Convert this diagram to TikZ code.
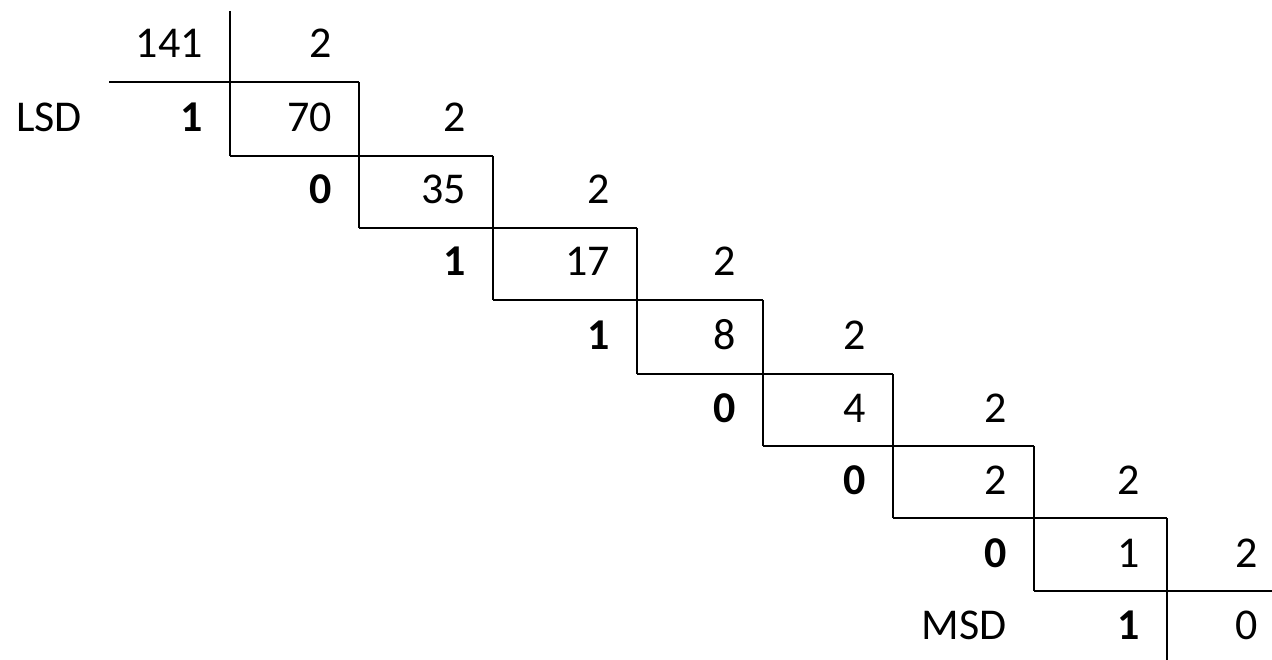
\documentclass[tikz,border=0pt]{standalone}
\usepackage{fontspec}
\setmainfont{Carlito}
\begin{document}
\begin{tikzpicture}[x=1pt,y=-1pt,
  lad/.style={line width=1.6pt,black},
  num/.style={anchor=base east,inner sep=0pt,font=\fontsize{44}{50}\selectfont},
  rem/.style={num,font=\fontsize{44}{50}\selectfont\bfseries},
  lbl/.style={anchor=base west,inner sep=0pt,font=\fontsize{44}{50}\selectfont}]
\useasboundingbox (0,0) rectangle (1272,660);
% column boundaries and row boundaries
\def\Xa{109}\def\Xb{230}\def\Xc{359}\def\Xd{493}\def\Xe{637}\def\Xf{763}\def\Xg{893}\def\Xh{1034}\def\Xi{1167}\def\Xj{1285}
% ladder lines
\coordinate (v1t) at (\Xb,11);   \coordinate (v1b) at (\Xb,156);
\coordinate (h1l) at (\Xa,82);   \coordinate (h1r) at (\Xc,82);
\coordinate (v2t) at (\Xc,82);   \coordinate (v2b) at (\Xc,228);
\coordinate (h2l) at (\Xb,156);  \coordinate (h2r) at (\Xd,156);
\coordinate (v3t) at (\Xd,156);  \coordinate (v3b) at (\Xd,300);
\coordinate (h3l) at (\Xc,228);  \coordinate (h3r) at (\Xe,228);
\coordinate (v4t) at (\Xe,228);  \coordinate (v4b) at (\Xe,374);
\coordinate (h4l) at (\Xd,300);  \coordinate (h4r) at (\Xf,300);
\coordinate (v5t) at (\Xf,300);  \coordinate (v5b) at (\Xf,446);
\coordinate (h5l) at (\Xe,374);  \coordinate (h5r) at (\Xg,374);
\coordinate (v6t) at (\Xg,374);  \coordinate (v6b) at (\Xg,518);
\coordinate (h6l) at (\Xf,446);  \coordinate (h6r) at (\Xh,446);
\coordinate (v7t) at (\Xh,446);  \coordinate (v7b) at (\Xh,591);
\coordinate (h7l) at (\Xg,518);  \coordinate (h7r) at (\Xi,518);
\coordinate (v8t) at (\Xi,518);  \coordinate (v8b) at (\Xi,660);
\coordinate (h8l) at (\Xh,591);  \coordinate (h8r) at (1272,591);
\foreach \k in {1,...,8}{
  \draw[lad] (v\k t) -- (v\k b);
  \draw[lad] (h\k l) -- (h\k r);
}
% texts (right edge = column right - 27, baseline = row bottom - 24)
\node[num] (n141) at (\Xb-27,58) {141};
\node[num] (d0) at (\Xc-27,58) {2};
\node[lbl] (lsd) at (16,132) {LSD};
\node[rem] (r1) at (\Xb-27,132) {1};
\node[num] (n70) at (\Xc-27,132) {70};
\node[num] (d1) at (\Xd-27,132) {2};
\node[rem] (r2) at (\Xc-27,204) {0};
\node[num] (n35) at (\Xd-27,204) {35};
\node[num] (d2) at (\Xe-27,204) {2};
\node[rem] (r3) at (\Xd-27,276) {1};
\node[num] (n17) at (\Xe-27,276) {17};
\node[num] (d3) at (\Xf-27,276) {2};
\node[rem] (r4) at (\Xe-27,350) {1};
\node[num] (n8) at (\Xf-27,350) {8};
\node[num] (d4) at (\Xg-27,350) {2};
\node[rem] (r5) at (\Xf-27,422) {0};
\node[num] (n4) at (\Xg-27,422) {4};
\node[num] (d5) at (\Xh-27,422) {2};
\node[rem] (r6) at (\Xg-27,494) {0};
\node[num] (n2) at (\Xh-27,494) {2};
\node[num] (d6) at (\Xi-27,494) {2};
\node[rem] (r7) at (\Xh-27,567) {0};
\node[num] (n1) at (\Xi-27,567) {1};
\node[num] (d7) at (\Xj-27,567) {2};
\node[num] (msd) at (\Xh-27,639) {MSD};
\node[rem] (r8) at (\Xi-27,639) {1};
\node[num] (n0) at (\Xj-27,639) {0};
\end{tikzpicture}
\end{document}
